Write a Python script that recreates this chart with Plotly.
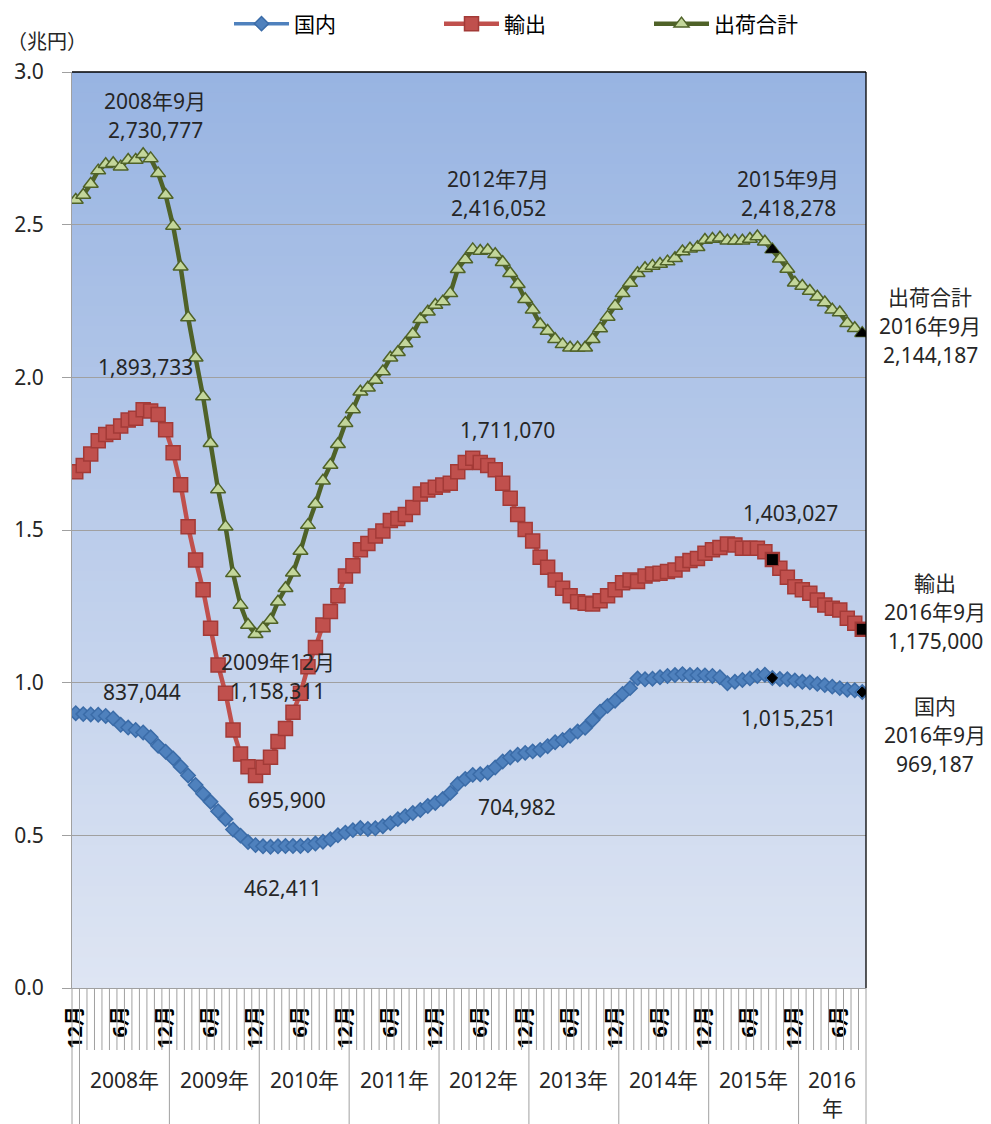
import plotly.graph_objects as go

# 2007年12月〜2016年9月 (月次, 兆円)
years = [2007] + [y for y in range(2008, 2016) for _ in range(12)] + [2016] * 9
month_nums = [12] + list(range(1, 13)) * 8 + list(range(1, 10))

domestic = [
    0.900, 0.897, 0.896, 0.895, 0.891, 0.883, 0.862, 0.853, 0.845, 0.837, 0.821, 0.793, 0.774,
    0.752, 0.725, 0.696, 0.665, 0.636, 0.610, 0.579, 0.553, 0.519, 0.499, 0.478, 0.468,
    0.464, 0.4624, 0.464, 0.465, 0.465, 0.465, 0.467, 0.473, 0.479, 0.487, 0.500, 0.509,
    0.517, 0.524, 0.521, 0.523, 0.530, 0.540, 0.553, 0.563, 0.573, 0.583, 0.596, 0.606,
    0.619, 0.639, 0.668, 0.685, 0.698, 0.700, 0.705, 0.722, 0.742, 0.755, 0.764, 0.770,
    0.775, 0.780, 0.792, 0.805, 0.812, 0.826, 0.840, 0.852, 0.878, 0.905, 0.924, 0.941,
    0.963, 0.982, 1.014, 1.011, 1.013, 1.018, 1.022, 1.025, 1.028, 1.025, 1.025, 1.024,
    1.022, 1.018, 0.998, 1.003, 1.009, 1.014, 1.022, 1.026, 1.0153, 1.012, 1.011, 1.007,
    1.003, 1.001, 0.996, 0.992, 0.987, 0.982, 0.977, 0.975, 0.9692,
]
export = [
    1.691, 1.711, 1.749, 1.792, 1.813, 1.820, 1.841, 1.860, 1.866, 1.8937, 1.890, 1.878, 1.828,
    1.753, 1.648, 1.511, 1.402, 1.304, 1.178, 1.058, 0.965, 0.845, 0.766, 0.725, 0.6959,
    0.723, 0.756, 0.807, 0.850, 0.903, 0.965, 1.052, 1.115, 1.189, 1.233, 1.285, 1.349,
    1.383, 1.435, 1.456, 1.480, 1.497, 1.531, 1.538, 1.551, 1.574, 1.618, 1.631, 1.640,
    1.647, 1.653, 1.691, 1.721, 1.735, 1.721, 1.711, 1.697, 1.653, 1.604, 1.551, 1.502,
    1.464, 1.411, 1.378, 1.336, 1.309, 1.285, 1.265, 1.260, 1.258, 1.268, 1.285, 1.304,
    1.327, 1.336, 1.331, 1.349, 1.356, 1.358, 1.364, 1.369, 1.389, 1.400, 1.407, 1.424,
    1.435, 1.443, 1.454, 1.451, 1.440, 1.440, 1.440, 1.429, 1.403, 1.375, 1.345, 1.314,
    1.304, 1.293, 1.271, 1.254, 1.244, 1.238, 1.211, 1.195, 1.175,
]
total = [
    2.581, 2.597, 2.633, 2.677, 2.698, 2.701, 2.690, 2.712, 2.712, 2.7308, 2.717, 2.668, 2.597,
    2.496, 2.362, 2.196, 2.064, 1.937, 1.784, 1.633, 1.511, 1.358, 1.254, 1.189, 1.1583,
    1.178, 1.205, 1.265, 1.309, 1.360, 1.431, 1.516, 1.585, 1.661, 1.713, 1.781, 1.850,
    1.895, 1.953, 1.966, 1.991, 2.019, 2.064, 2.082, 2.111, 2.142, 2.190, 2.215, 2.237,
    2.248, 2.275, 2.354, 2.386, 2.419, 2.414, 2.4161, 2.403, 2.377, 2.341, 2.305, 2.256,
    2.221, 2.174, 2.152, 2.125, 2.108, 2.097, 2.097, 2.097, 2.125, 2.160, 2.198, 2.234,
    2.275, 2.309, 2.341, 2.357, 2.365, 2.371, 2.379, 2.390, 2.412, 2.421, 2.426, 2.450,
    2.453, 2.457, 2.447, 2.447, 2.447, 2.453, 2.461, 2.444, 2.4183, 2.388, 2.355, 2.310,
    2.299, 2.283, 2.264, 2.245, 2.221, 2.212, 2.177, 2.161, 2.1442,
]

highlight_idx = [93, 105]  # 2015年9月, 2016年9月

x = list(range(len(month_nums)))
tick_vals = [i for i, m in enumerate(month_nums) if m in (6, 12)]
tick_text = [f"{month_nums[i]}月" for i in tick_vals]

FONT = "Noto Sans, Noto Sans CJK JP, sans-serif"
TXT = "#262626"
GRAY = "#A0A0A0"

# ページ余白(8px)を差し引いたサイズ
W, H = 983, 1116

fig = go.Figure()

series = [
    ("国内", domestic, "diamond", 11, "#4F81BD", "#3B6CA8", 3.5, "#4F81BD"),
    ("輸出", export, "square", 14, "#C0504D", "#A33A37", 4.5, "#C0504D"),
    ("出荷合計", total, "triangle-up", 13, "#C3D69B", "#4F6228", 4.5, "#4F6228"),
]
for name, vals, sym, size, fill, edge, lw, lcolor in series:
    fig.add_trace(go.Scatter(
        x=x, y=vals, name=name, mode="lines+markers",
        line=dict(color=lcolor, width=lw),
        marker=dict(symbol=sym, size=size, color=fill, line=dict(color=edge, width=1.5)),
    ))

# 2015年9月・2016年9月の点は黒
for name, vals, sym, size, fill, edge, lw, lcolor in series:
    fig.add_trace(go.Scatter(
        x=[x[i] for i in highlight_idx], y=[vals[i] for i in highlight_idx],
        mode="markers", showlegend=False, hoverinfo="skip",
        marker=dict(symbol=sym, size=size - 2 if sym != "diamond" else 8, color="black",
                    line=dict(color=edge if sym == "square" else "black", width=1)),
    ))

# 背景グラデーション
top_c, bot_c = (152, 180, 226), (222, 229, 243)
n_band = 90
for k in range(n_band):
    t = k / (n_band - 1)
    c = tuple(round(bot_c[j] + (top_c[j] - bot_c[j]) * t) for j in range(3))
    fig.add_shape(type="rect", xref="paper", yref="paper", x0=0, x1=1,
                  y0=k / n_band, y1=min(1, (k + 1) / n_band + 0.002),
                  fillcolor=f"rgb{c}", line_width=0, layer="below")

# 月の区切り線と年の区切り線
for i in range(len(x) - 1):
    new_year = years[i + 1] != years[i]
    fig.add_shape(type="line", xref="x", yref="paper", ysizemode="pixel", yanchor=0,
                  x0=i + 0.5, x1=i + 0.5, y0=0, y1=-136 if new_year else -62,
                  line=dict(color=GRAY, width=1), layer="above")
for xe in (0, 1):
    fig.add_shape(type="line", xref="paper", yref="paper", ysizemode="pixel", yanchor=0,
                  x0=xe, x1=xe, y0=0, y1=-136, line=dict(color=GRAY, width=1))

# 上・右の枠線
fig.add_shape(type="line", xref="paper", yref="paper", x0=0, x1=1, y0=1, y1=1,
              line=dict(color="black", width=1.3))
fig.add_shape(type="line", xref="paper", yref="paper", x0=1, x1=1, y0=0, y1=1,
              line=dict(color="black", width=1.3))

LINE_GAP = 29


def add_label(lines, xv, yv, xref="x", yref="y", size=21):
    n = len(lines)
    for k, t in enumerate(lines):
        fig.add_annotation(x=xv, y=yv, xref=xref, yref=yref, text=t, showarrow=False,
                           xanchor="center", yanchor="middle",
                           yshift=(n - 1) / 2 * LINE_GAP - k * LINE_GAP,
                           font=dict(family=FONT, size=size, color=TXT))


# 年ラベル
for yr in sorted(set(years)):
    if yr == 2007:
        continue
    idx = [i for i, v in enumerate(years) if v == yr]
    cx = (idx[0] + idx[-1]) / 2
    lines = [f"{yr}年"] if len(idx) == 12 else [str(yr), "年"]
    for k, t in enumerate(lines):
        fig.add_annotation(x=cx, y=0, xref="x", yref="paper", text=t, showarrow=False,
                           yanchor="middle", yshift=-92 - k * 28,
                           font=dict(family=FONT, size=21, color=TXT))

# データラベル
labels = [
    (["2008年9月", "2,730,777"], 10.6, 2.858),
    (["1,893,733"], 9.3, 2.034),
    (["837,044"], 8.8, 0.970),
    (["2009年12月", "1,158,311"], 27.0, 1.019),
    (["695,900"], 28.2, 0.616),
    (["462,411"], 27.7, 0.328),
    (["2012年7月", "2,416,052"], 56.4, 2.601),
    (["1,711,070"], 57.7, 1.828),
    (["704,982"], 58.9, 0.593),
    (["2015年9月", "2,418,278"], 95.1, 2.601),
    (["1,403,027"], 95.4, 1.556),
    (["1,015,251"], 95.1, 0.884),
]
for lines, xv, yv in labels:
    add_label(lines, xv, yv)

right_labels = [
    (["出荷合計", "2016年9月", "2,144,187"], 1.081, 2.168),
    (["輸出", "2016年9月", "1,175,000"], 1.087, 1.232),
    (["国内", "2016年9月", "969,187"], 1.087, 0.829),
]
for lines, xv, yv in right_labels:
    add_label(lines, xv, yv, xref="paper")

fig.add_annotation(x=-0.085, y=1.033, xref="paper", yref="paper", text="（兆円）",
                   showarrow=False, xanchor="left", yanchor="middle",
                   font=dict(family=FONT, size=20, color=TXT))

fig.update_layout(
    width=W, height=H,
    margin=dict(l=64, r=125, t=64, b=136),
    paper_bgcolor="white",
    plot_bgcolor="rgba(0,0,0,0)",
    font=dict(family=FONT, size=21, color=TXT),
    legend=dict(orientation="h", xref="container", yref="container",
                x=221 / W, y=1 - 16 / H, xanchor="left", yanchor="middle",
                entrywidth=140, entrywidthmode="pixels", itemwidth=55,
                font=dict(family=FONT, size=21, color="black"), bgcolor="rgba(0,0,0,0)"),
    xaxis=dict(range=[-0.5, len(x) - 0.5], tickmode="array", tickvals=tick_vals, ticktext=tick_text,
               tickangle=-90, ticks="outside", ticklen=9, tickcolor="rgba(0,0,0,0)",
               tickfont=dict(family=FONT, size=20, color="black", weight="bold"),
               showgrid=False, zeroline=False, showline=True, linecolor=GRAY, automargin=False),
    yaxis=dict(range=[0, 3], tickmode="linear", tick0=0, dtick=0.5, tickformat=".1f",
               showgrid=True, gridcolor=GRAY, gridwidth=1, zeroline=False,
               showline=True, linecolor=GRAY, ticks="outside", ticklen=9, tickcolor=GRAY,
               ticklabelstandoff=14, tickfont=dict(family=FONT, size=21, color=TXT),
               automargin=False),
    showlegend=True,
)

fig.write_html("out.html")
